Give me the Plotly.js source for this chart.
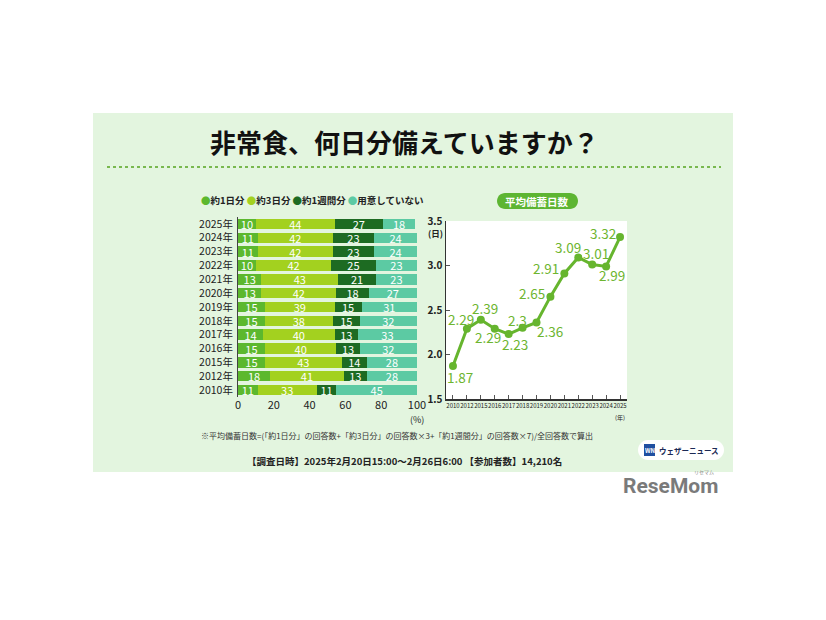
<!DOCTYPE html>
<html><head><meta charset="utf-8">
<script src="https://cdn.plot.ly/plotly-3.0.1.min.js"></script>
<style>html,body{margin:0;padding:0;background:#fff}#c{width:826px;height:620px}</style>
</head><body><div id="c"></div>
<script>
// ---- data ----
const years = ["2025年","2024年","2023年","2022年","2021年","2020年","2019年","2018年","2017年","2016年","2015年","2012年","2010年"];
const oneDay   = [10,11,11,10,13,13,15,15,14,15,15,18,11];
const threeDay = [44,42,42,42,43,42,39,38,40,40,43,41,33];
const oneWeek  = [27,23,23,25,21,18,15,15,13,13,14,13,11];
const none     = [18,24,24,23,23,27,31,32,33,32,28,28,45];
const seriesNames = ["約1日分","約3日分","約1週間分","用意していない"];
const lineYears = ["2010","2012","2015","2016","2017","2018","2019","2020","2021","2022","2023","2024","2025"];
const avgDays = [1.87,2.29,2.39,2.29,2.23,2.3,2.36,2.65,2.91,3.09,3.01,2.99,3.32];
const avgLabels = ["1.87","2.29","2.39","2.29","2.23","2.3","2.36","2.65","2.91","3.09","3.01","2.99","3.32"];
const xTicksBar = [0,20,40,60,80,100];
const yTicksLine = [1.5,2.0,2.5,3.0,3.5];

const W=826,H=620;
const px=x=>x/W, py=y=>1-y/H;
const FONT="Noto Sans CJK JP, Noto Sans, sans-serif";
const colors=["#5cb82e","#a3d11f","#1d6b22","#5ccaa3"];
const lineGreen="#66b52e";

const barData=[oneDay,threeDay,oneWeek,none];
const traces=barData.map((v,i)=>({
  type:"bar",orientation:"h",x:v,y:years,name:seriesNames[i],
  marker:{color:colors[i],line:{width:0}},
  text:v.map(String),textposition:"inside",insidetextanchor:"middle",constraintext:"none",textangle:0,
  textfont:{color:"#ffffff",size:11,family:FONT},
  width:0.76,xaxis:"x",yaxis:"y",hoverinfo:"skip",showlegend:false,cliponaxis:false
}));

traces.push({
  type:"scatter",mode:"lines+markers",x:lineYears,y:avgDays,
  line:{color:lineGreen,width:3},marker:{color:lineGreen,size:8},
  xaxis:"x2",yaxis:"y2",hoverinfo:"skip",showlegend:false,cliponaxis:false
});

// label offsets (px) relative to each point: style only
const lblDx=[7,-6,4,-7,6,-5,13,-18,-18,-10,4,6,-17];
const lblDy=[-11,10,12,-8,-10,8,-9,4,6,10,12,-9,4];

function pill(x0,y0,x1,y1){
  const r=(y1-y0)/2;
  const P=(x,y)=>px(x)+","+py(y);
  return "M"+P(x0+r,y0)+" L"+P(x1-r,y0)+" C"+P(x1-r+r*0.55,y0)+" "+P(x1,y0+r*0.45)+" "+P(x1,y0+r)+
    " C"+P(x1,y1-r*0.45)+" "+P(x1-r+r*0.55,y1)+" "+P(x1-r,y1)+" L"+P(x0+r,y1)+
    " C"+P(x0+r-r*0.55,y1)+" "+P(x0,y1-r*0.45)+" "+P(x0,y0+r)+" C"+P(x0,y0+r*0.45)+" "+P(x0+r-r*0.55,y0)+" "+P(x0+r,y0)+" Z";
}

const shapes=[
  {type:"rect",xref:"paper",yref:"paper",x0:px(93),x1:px(733),y0:py(472),y1:py(113),fillcolor:"#e3f5df",line:{width:0},layer:"below"},
  {type:"line",xref:"paper",yref:"paper",x0:px(107),x1:px(721),y0:py(167),y1:py(167),line:{color:"#79b84f",width:2,dash:"dot"}},
  {type:"rect",xref:"x2 domain",yref:"y2 domain",x0:0,x1:1,y0:0,y1:1,fillcolor:"#ffffff",line:{width:0},layer:"below"},
  {type:"path",xref:"paper",yref:"paper",path:pill(497,193,578,209),fillcolor:"#5db532",line:{width:0}},
  {type:"path",xref:"paper",yref:"paper",path:pill(638,440,724,460),fillcolor:"#ffffff",line:{width:0}},
  {type:"rect",xref:"paper",yref:"paper",x0:px(644),x1:px(655),y0:py(456),y1:py(444),fillcolor:"#1f4fa0",line:{width:0}}
];

const legendHtml=seriesNames.map((n,i)=>'<span style="color:'+colors[i]+'">●</span>'+n).join(' ');
const annotations=[
  {xref:"paper",yref:"paper",x:px(404),y:py(142),text:"<b>非常食、何日分備えていますか？</b>",showarrow:false,font:{size:26,color:"#111",family:FONT},xanchor:"center",yanchor:"middle"},
  {xref:"paper",yref:"paper",x:px(199),y:py(200),text:"<b>"+legendHtml+"</b>",showarrow:false,font:{size:9.5,color:"#222",family:FONT},xanchor:"left",yanchor:"middle"},
  {xref:"paper",yref:"paper",x:px(537),y:py(201),text:"<b>平均備蓄日数</b>",showarrow:false,font:{size:10.5,color:"#ffffff",family:FONT},xanchor:"center",yanchor:"middle"},
  {xref:"paper",yref:"paper",x:px(417),y:py(419),text:"(%)",showarrow:false,font:{size:9,color:"#222",family:FONT},xanchor:"center",yanchor:"middle"},
  {xref:"paper",yref:"paper",x:px(436),y:py(233),text:"<b>(日)</b>",showarrow:false,font:{size:8.5,color:"#222",family:FONT},xanchor:"center",yanchor:"middle"},
  {xref:"paper",yref:"paper",x:px(620),y:py(417),text:"(年)",showarrow:false,font:{size:6,color:"#222",family:FONT},xanchor:"center",yanchor:"middle"},
  {xref:"paper",yref:"paper",x:px(199),y:py(435),text:"※平均備蓄日数=(「約1日分」の回答数+「約3日分」の回答数×3+「約1週間分」の回答数×7)/全回答数で算出",showarrow:false,font:{size:8,color:"#333",family:FONT},xanchor:"left",yanchor:"middle"},
  {xref:"paper",yref:"paper",x:px(404),y:py(461),text:"<b>【調査日時】2025年2月20日15:00～2月26日6:00 【参加者数】14,210名</b>",showarrow:false,font:{size:9.5,color:"#222",family:FONT},xanchor:"center",yanchor:"middle"},
  {xref:"paper",yref:"paper",x:px(649.5),y:py(450),text:"<b>WN</b>",showarrow:false,font:{size:6,color:"#ffffff",family:FONT},xanchor:"center",yanchor:"middle"},
  {xref:"paper",yref:"paper",x:px(657),y:py(450),text:"<b>ウェザーニュース</b>",showarrow:false,font:{size:7.5,color:"#1b2a55",family:FONT},xanchor:"left",yanchor:"middle"},
  {xref:"paper",yref:"paper",x:px(670),y:py(486),text:"<b>ReseMom</b>",showarrow:false,font:{size:21,color:"#7a7a7a",family:"Roboto, sans-serif"},xanchor:"center",yanchor:"middle"},
  {xref:"paper",yref:"paper",x:px(704),y:py(472),text:"リセマム",showarrow:false,font:{size:5,color:"#888",family:FONT},xanchor:"center",yanchor:"middle"}
];
avgDays.forEach((v,i)=>{
  annotations.push({xref:"x2",yref:"y2",x:i,y:v,text:avgLabels[i],showarrow:false,
    xshift:lblDx[i],yshift:lblDy[i],font:{size:13.5,color:"#6db52f",family:FONT},xanchor:"center",yanchor:"middle"});
});

const layout={
  width:W,height:H,margin:{l:0,r:0,t:0,b:0},
  paper_bgcolor:"#ffffff",plot_bgcolor:"rgba(0,0,0,0)",
  barmode:"stack",bargap:0.24,showlegend:false,
  font:{family:FONT,color:"#222"},
  xaxis:{domain:[px(238),px(417)],range:[0,100],tickvals:xTicksBar,ticktext:xTicksBar.map(String),
    showgrid:false,zeroline:false,showline:false,ticks:"",tickfont:{size:11,color:"#222"},fixedrange:true,anchor:"y"},
  yaxis:{domain:[py(397),py(217)],type:"category",autorange:"reversed",showgrid:false,zeroline:false,
    showline:true,linecolor:"#444",linewidth:1,ticks:"",tickfont:{size:10.5,color:"#222"},ticklabelstandoff:2,anchor:"x"},
  xaxis2:{domain:[px(446),px(627)],type:"category",range:[-0.5,12.5],showgrid:false,zeroline:false,
    showline:true,linecolor:"#333",linewidth:1.5,ticks:"inside",ticklen:4,tickcolor:"#555",tickangle:0,
    tickfont:{size:6,color:"#222"},anchor:"y2"},
  yaxis2:{domain:[py(399),py(221)],range:[1.5,3.5],tickvals:yTicksLine,ticktext:yTicksLine.map(v=>"<b>"+v.toFixed(1)+"</b>"),
    showgrid:false,zeroline:false,showline:true,linecolor:"#333",linewidth:1.5,ticks:"inside",ticklen:4,tickcolor:"#555",
    tickfont:{size:10,color:"#222"},anchor:"x2"},
  shapes:shapes,annotations:annotations
};
Plotly.newPlot("c",traces,layout,{displayModeBar:false,staticPlot:true});
</script></body></html>
